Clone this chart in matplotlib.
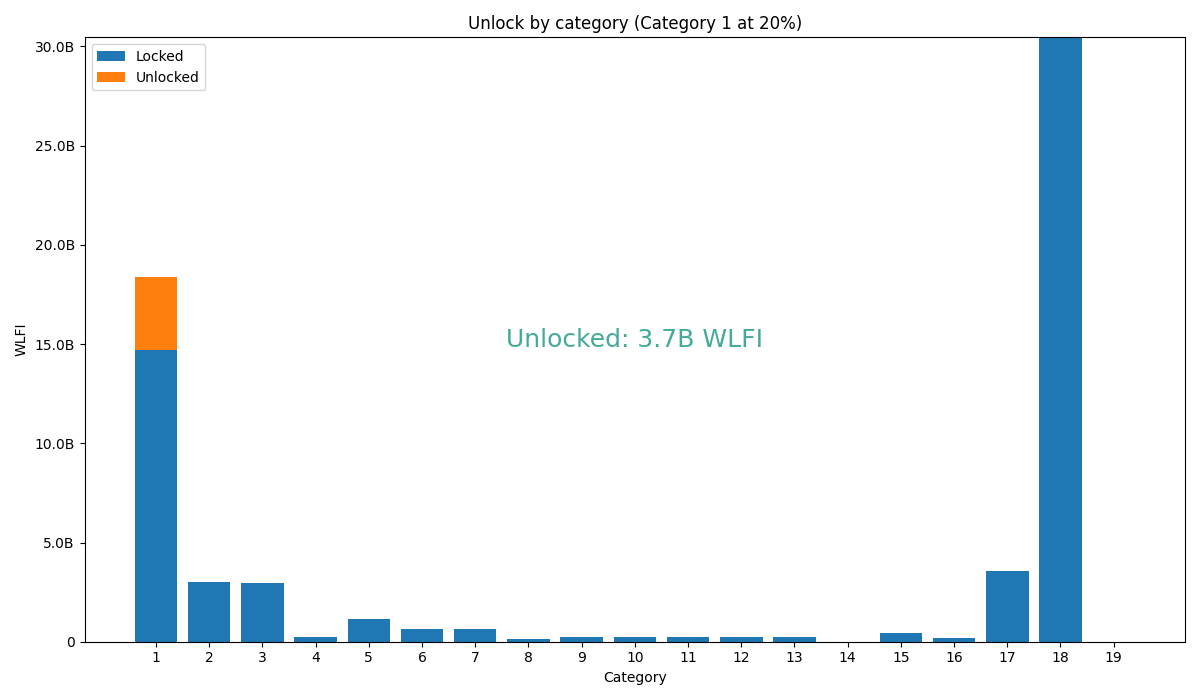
import matplotlib
matplotlib.use("Agg")
import matplotlib.pyplot as plt
from matplotlib.ticker import FuncFormatter

categories = list(range(1, 20))
# total allocation per category, in WLFI
totals = [18.4e9, 3.0e9, 2.95e9, 0.22e9, 1.16e9, 0.62e9, 0.62e9, 0.14e9, 0.22e9,
          0.25e9, 0.22e9, 0.22e9, 0.22e9, 0.0, 0.44e9, 0.17e9, 3.58e9, 33.5e9, 0.0]
unlock_share = [0.20] + [0.0] * 18
unlocked = [t * s for t, s in zip(totals, unlock_share)]
locked = [t - u for t, u in zip(totals, unlocked)]
y_top = 30.46e9

fig, ax = plt.subplots(figsize=(12, 7), dpi=100)

ax.bar(categories, locked, label="Locked", color="#1f77b4")
ax.bar(categories, unlocked, bottom=locked, label="Unlocked", color="#ff7f0e")

ax.set_xticks(categories)
ax.set_ylim(0, y_top)
ax.yaxis.set_major_formatter(FuncFormatter(lambda v, p: "0" if v == 0 else f"{v / 1e9:.1f}B"))

ax.set_xlabel("Category")
ax.set_ylabel("WLFI")
ax.set_title("Unlock by category (Category 1 at 20%)")
ax.legend(loc="upper left")

total_unlocked = sum(unlocked)
ax.text(0.5, 0.5, f"Unlocked: {total_unlocked / 1e9:.1f}B WLFI", transform=ax.transAxes,
        ha="center", va="center", fontsize=18, color="#44aa99")

plt.tight_layout()
plt.savefig("out.png", dpi=100)
plt.close()
